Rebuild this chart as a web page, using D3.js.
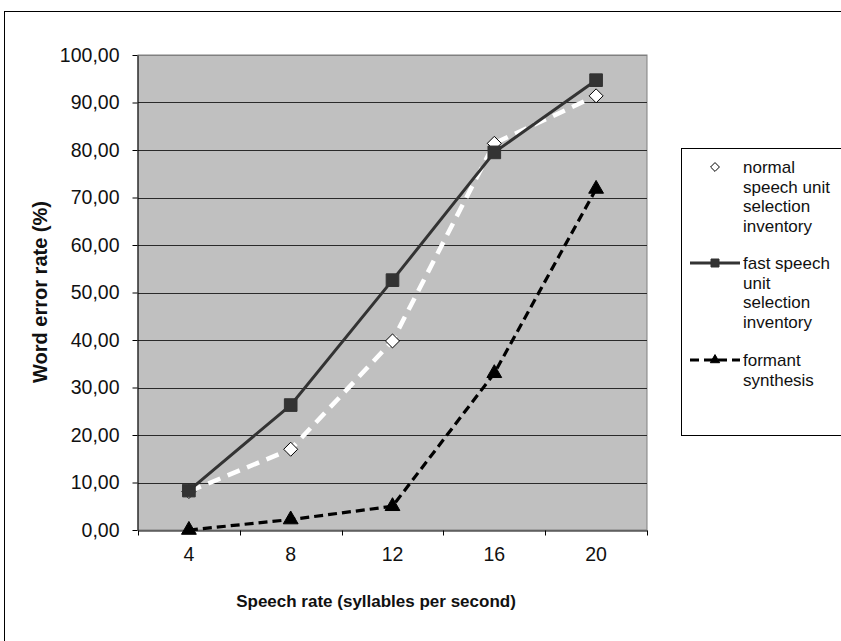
<!DOCTYPE html>
<html lang="en">
  <head>
    <meta charset="UTF-8" />
    <title>Word error rate</title>
    <script src="https://cdn.jsdelivr.net/npm/d3@7"></script>
    <style>
      body {
        margin: 0;
        background: #fff;
        font-family: "Liberation Sans", Arial, sans-serif;
      }
    </style>
  </head>
  <body>
    <div id="chart"></div>

    <script>
      // data
      var rates = ["4", "8", "12", "16", "20"];
      var normalSpeech = [8.1, 17.0, 39.8, 81.4, 91.4];
      var fastSpeech = [8.3, 26.3, 52.6, 79.5, 94.7];
      var formant = [0.0, 2.2, 5.0, 33.0, 71.8];
      var yTicks = [0, 10, 20, 30, 40, 50, 60, 70, 80, 90, 100];
      var legendLabels = [
        ["normal", "speech unit", "selection", "inventory"],
        ["fast speech", "unit", "selection", "inventory"],
        ["formant", "synthesis"]
      ];

      var W = 841, H = 641;
      var plot = { left: 138, right: 647, top: 55, bottom: 530 };

      var svg = d3
        .select("#chart")
        .append("svg")
        .attr("width", W)
        .attr("height", H);

      // outer frame
      svg
        .append("rect")
        .attr("x", 4.5)
        .attr("y", 11.5)
        .attr("width", 900)
        .attr("height", 700)
        .attr("fill", "#fff")
        .attr("stroke", "#000")
        .attr("stroke-width", 1);

      var x = d3
        .scaleBand()
        .domain(rates)
        .range([plot.left, plot.right])
        .padding(0);
      var y = d3.scaleLinear().domain([0, 100]).range([plot.bottom, plot.top]);

      var loc = d3.formatLocale({
        decimal: ",",
        thousands: ".",
        grouping: [3],
        currency: ["", ""]
      });
      var fmt = loc.format(".2f");

      // plot background
      svg
        .append("rect")
        .attr("x", plot.left)
        .attr("y", plot.top)
        .attr("width", plot.right - plot.left)
        .attr("height", plot.bottom - plot.top)
        .attr("fill", "#c0c0c0")
        .attr("stroke", "#808080")
        .attr("stroke-width", 1);

      // gridlines
      svg
        .append("g")
        .selectAll("line")
        .data(yTicks.slice(1))
        .enter()
        .append("line")
        .attr("x1", plot.left)
        .attr("x2", plot.right)
        .attr("y1", (d) => Math.round(y(d)) + 0.5)
        .attr("y2", (d) => Math.round(y(d)) + 0.5)
        .attr("stroke", (d) => (d === 100 ? "#808080" : "#2a2a2a"))
        .attr("stroke-width", 1);

      // y axis
      var yAxis = d3
        .axisLeft(y)
        .tickValues(yTicks)
        .tickFormat(fmt)
        .tickSize(5)
        .tickSizeOuter(0)
        .tickPadding(13);
      var yg = svg
        .append("g")
        .attr("transform", "translate(" + (plot.left - 0.5) + ",0)")
        .call(yAxis);
      yg.selectAll("line").attr("stroke", "#000");
      yg.select(".domain").attr("stroke", "#000");
      yg.selectAll("text")
        .attr("font-family", "'Liberation Sans', Arial, sans-serif")
        .attr("font-size", 19.5)
        .attr("fill", "#111");

      // x axis: labels centred in bands, ticks at band edges
      var xAxis = d3.axisBottom(x).tickSize(0).tickPadding(17).tickSizeOuter(0);
      var xg = svg
        .append("g")
        .attr("transform", "translate(0," + (plot.bottom + 0.5) + ")")
        .call(xAxis);
      xg.select(".domain").attr("stroke", "#000");
      xg.selectAll("text")
        .attr("font-family", "'Liberation Sans', Arial, sans-serif")
        .attr("font-size", 19.5)
        .attr("fill", "#111");
      var edges = rates.map((r) => x(r)).concat([x(rates[rates.length - 1]) + x.bandwidth()]);
      xg.selectAll(".edge")
        .data(edges)
        .enter()
        .append("line")
        .attr("class", "edge")
        .attr("x1", (d) => Math.round(d) + 0.5)
        .attr("x2", (d) => Math.round(d) + 0.5)
        .attr("y1", 0)
        .attr("y2", 5)
        .attr("stroke", "#000");

      var cx = (r) => x(r) + x.bandwidth() / 2;

      var series = [
        {
          values: normalSpeech,
          color: "#fff",
          width: 4.5,
          dash: "13,8",
          marker: d3.symbolDiamond2 || d3.symbolDiamond,
          mfill: "#fff",
          mstroke: "#000",
          msize: 125
        },
        {
          values: fastSpeech,
          color: "#333",
          width: 3,
          dash: null,
          marker: d3.symbolSquare,
          mfill: "#333",
          mstroke: "#333",
          msize: 160
        },
        {
          values: formant,
          color: "#000",
          width: 3.2,
          dash: "9,5",
          marker: d3.symbolTriangle,
          mfill: "#000",
          mstroke: "#000",
          msize: 95
        }
      ];

      var line = d3
        .line()
        .x((d, i) => cx(rates[i]))
        .y((d) => y(d));

      series.forEach(function (s) {
        svg
          .append("path")
          .datum(s.values)
          .attr("fill", "none")
          .attr("stroke", s.color)
          .attr("stroke-width", s.width)
          .attr("stroke-dasharray", s.dash)
          .attr("d", line);

        svg
          .append("g")
          .selectAll("path")
          .data(s.values)
          .enter()
          .append("path")
          .attr(
            "transform",
            (d, i) => "translate(" + cx(rates[i]) + "," + y(d) + ")"
          )
          .attr("d", d3.symbol().type(s.marker).size(s.msize))
          .attr("fill", s.mfill)
          .attr("stroke", s.mstroke)
          .attr("stroke-width", 1);
      });

      // axis titles
      svg
        .append("text")
        .attr("x", 376)
        .attr("y", 607)
        .attr("text-anchor", "middle")
        .attr("font-size", 17)
        .attr("font-weight", "bold")
        .attr("fill", "#111")
        .text("Speech rate (syllables per second)");

      svg
        .append("text")
        .attr("transform", "translate(47,292) rotate(-90)")
        .attr("text-anchor", "middle")
        .attr("font-size", 20)
        .attr("font-weight", "bold")
        .attr("fill", "#111")
        .text("Word error rate (%)");

      // legend
      var legend = svg.append("g");
      legend
        .append("rect")
        .attr("x", 681.5)
        .attr("y", 148.5)
        .attr("width", 200)
        .attr("height", 287)
        .attr("fill", "#fff")
        .attr("stroke", "#000");

      var entryY = [167, 263, 360];
      series.forEach(function (s, k) {
        var ly = entryY[k];
        legend
          .append("line")
          .attr("x1", 690)
          .attr("x2", 740)
          .attr("y1", ly)
          .attr("y2", ly)
          .attr("stroke", s.color)
          .attr("stroke-width", s.width)
          .attr("stroke-dasharray", s.dash);
        legend
          .append("path")
          .attr("transform", "translate(715," + ly + ")")
          .attr("d", d3.symbol().type(s.marker).size(s.msize * 0.4))
          .attr("fill", s.mfill)
          .attr("stroke", s.mstroke)
          .attr("stroke-width", 1);
        var t = legend
          .append("text")
          .attr("x", 743)
          .attr("y", ly + 6)
          .attr("font-size", 17)
          .attr("fill", "#111");
        legendLabels[k].forEach(function (l, j) {
          t.append("tspan")
            .attr("x", 743)
            .attr("dy", j === 0 ? 0 : 19.5)
            .text(l);
        });
      });
    </script>
  </body>
</html>
